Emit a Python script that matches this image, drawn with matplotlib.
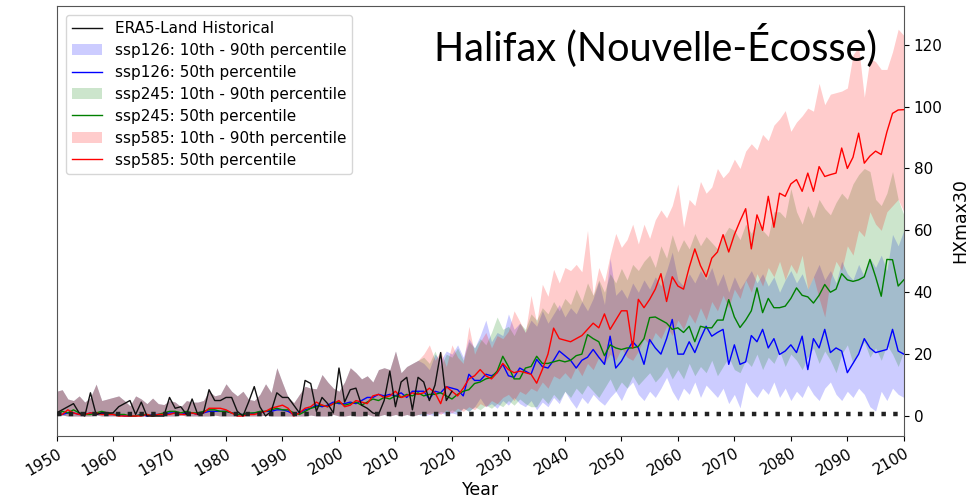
import numpy as np
import matplotlib
matplotlib.use("Agg")
import matplotlib.pyplot as plt

# ERA5-Land historical HXmax30, 1950-2020
era5_years = list(range(1950, 2021))
era5 = [1, 2, 3, 4, 1, 0, 7.5, 0.5, 1, 1,
        1, 3, 4, 5, 0.5, 4.5, 0, 0, 0, 0,
        6, 2.5, 3, 0.5, 5.5, 0.5, 1, 8.5, 5, 5,
        6, 6, 1.5, 0, 4.5, 9.5, 3, 0, 1.5, 7.5,
        6, 6, 3.5, 1, 11.5, 10.5, 1.5, 6, 4, 1,
        15.5, 4.5, 8.5, 9, 3.5, 2.5, 1, 0.5, 5, 14.5,
        3, 11, 12.5, 2, 12.5, 11, 5, 10, 20.5, 5, 8]

# model historical period 1950-2014 (shared envelope)
hist_years = list(range(1950, 2015))
hist_p10 = [0, 0.3, 0, 0, 0, 0, 0, 0.3, 0, 0,
            0, 0, 0, 0, 0, 0, 0, 0, 0, 0,
            0, 0, 0.3, 0, 0, 0, 0, 0, 0.3, 0,
            0, 0, 0, 0, 0, 0, 0, 0.3, 0, 0,
            0, 0, 0, 0, 0, 0.3, 0, 0, 0, 0.5,
            0, 0, 0.3, 0, 0, 0.5, 0, 0, 0.5, 0,
            0.5, 0, 0.5, 0, 0.5]
hist_p90 = [8, 8.5, 5.5, 5, 6.5, 4.5, 6, 10.3, 5, 5.5,
            6, 6.5, 5, 3.3, 6.5, 5.5, 4, 5.8, 4, 3.7,
            5, 4.5, 3, 5, 4.5, 4.5, 5, 8, 6.5, 7,
            10.4, 8, 6.5, 8, 5.4, 5, 7, 10.4, 7.6, 15.6,
            10.7, 6, 4.3, 7, 9.6, 9, 8.8, 13.4, 11, 9,
            8, 11, 15.6, 14, 12, 13, 11, 15, 15.6, 15,
            21, 14, 16, 17, 18]
hist_p50_126 = [0.5, 0.5, 1, 1, 0.5, 0.5, 1, 0.5, 1, 0.5,
                0.5, 0.5, 0, 0, 0, 0.5, 0, 0.5, 0.5, 0.5,
                1, 1, 0.5, 1, 1, 0.5, 1, 1.5, 1.5, 1.5,
                1.5, 1, 0.5, 0.5, 0.5, 1, 1, 1.5, 1.5, 2,
                2, 1.5, 0.5, 1, 2, 2.5, 3.5, 3, 3.5, 4.5,
                4, 4, 4.5, 4, 5, 6, 6, 7, 6.5, 7,
                6.5, 7.5, 6, 8, 8]
hist_p50_245 = [0.5, 1.5, 1, 2, 1, 0.5, 0.5, 1, 1.5, 1,
                0.5, 0.5, 0.5, 0, 0, 0.5, 0.5, 0, 0.5, 1,
                1.5, 1.5, 1, 1.5, 1, 1, 1.5, 2, 2, 1.5,
                1.5, 1, 0.5, 0.5, 1, 1, 1.5, 1.5, 2, 2.5,
                2, 2, 1, 0.5, 1.5, 2.5, 3, 3.5, 3, 4,
                4.5, 3.5, 4, 4.5, 3.5, 4.5, 5.5, 5, 6, 5.5,
                6.5, 6, 7, 6.5, 7.5]
hist_p50_585 = [1, 0.5, 2, 1, 0.5, 0.5, 1, 1, 0.5, 0.5,
                0.5, 0, 0, 0, 0, 0, 0.5, 0, 0.5, 0.5,
                0.5, 1, 0.5, 0.5, 1, 0.5, 1, 2.5, 2.5, 2.5,
                2, 1, 0, 0, 0.5, 0.5, 1, 1.5, 2.5, 3,
                3.5, 2.5, 0, 1, 2.5, 3, 4.5, 3.5, 3, 4,
                5, 3, 3.5, 5, 4.5, 4, 6.5, 7, 6, 6.5,
                8, 6, 6.5, 7.5, 7]

# scenario period 2015-2100
ssp_years = list(range(2015, 2101))

ssp126_p10 = [0, 0.5, 0, 1, 0.5, 1, 0.5, 2.6, 1.5, 3,
              5.8, 3, 4, 2.5, 5, 3.5, 6, 4, 3, 5,
              2, 4.5, 3, 6, 4, 8, 5, 2.5, 6, 4,
              7, 5, 3.5, 6, 8, 5, 9, 11, 7, 5,
              8, 6, 9, 12.5, 8, 5, 9, 7, 11, 6,
              10, 8, 6, 9, 4, 7, 2.6, 11, 8, 6,
              9, 7, 11, 6, 9, 5, 8, 6, 10, 7,
              5, 9, 11, 7, 5, 8, 6, 9, 7, 3,
              1.6, 8, 5, 9, 7, 6]
ssp126_p50 = [8, 5.5, 8, 7.5, 9.5, 9, 8.5, 6.5, 13.5, 11.5,
              11.5, 13.5, 13, 14, 16.7, 13, 12.5, 15.5, 14.5, 13.5,
              18.3, 16, 15.5, 18, 21, 19.5, 18, 15.5, 18, 19,
              21.5, 19, 16.7, 25.8, 15.5, 17.7, 21, 24, 22, 16.7,
              24.7, 22, 20, 25, 31.2, 20, 20, 24, 20.5, 25,
              29, 25.8, 27, 28, 16.7, 23, 16.7, 17.5, 26, 24,
              28, 22, 25, 19.9, 21, 23, 20.5, 25.8, 15, 25,
              22, 28, 20.5, 22, 21, 14, 17, 20, 25, 22,
              20.5, 21, 21.5, 28, 21, 20]
ssp126_p90 = [17, 15, 20, 18, 21, 20, 23, 19, 25, 22,
              26, 31, 24, 27, 26, 33, 28, 30, 27, 31,
              29, 34, 30, 33, 36, 32, 35, 33, 37, 34,
              38, 43.5, 36, 51, 39, 41, 38, 43, 40, 44,
              41, 45, 42, 47, 53, 44, 42, 46, 43, 47,
              44, 48, 42, 46, 40, 45, 41, 44, 47, 43,
              46, 42, 45, 40, 44, 47, 43, 46, 41, 45,
              49, 44, 47, 43, 50, 46, 44, 49, 45, 51,
              48, 52, 47, 58.7, 55, 60]

ssp245_p10 = [0.5, 1, 0.5, 1.5, 1, 2, 1, 2.5, 1.5, 3,
              2, 3.5, 2.5, 4, 3, 5, 3.5, 5.5, 4, 3,
              3, 6, 4, 7, 5, 8, 6, 9, 7, 10,
              8, 6, 9, 12, 8, 11, 9, 13, 10, 12,
              14, 11, 13, 16, 12, 15, 12, 17, 13, 16,
              14, 18, 13, 16, 19, 15, 14, 18, 16, 20,
              15, 19, 17, 21, 16, 20, 18, 15, 19, 22,
              17, 21, 18, 14, 20, 23, 17, 21, 24, 19,
              22, 18, 23, 20, 16, 21]
ssp245_p50 = [6.5, 7, 7, 7.5, 6.5, 5.5, 7, 8, 8.5, 10.5,
              11, 12, 12.5, 14.5, 19.3, 16, 12, 12, 15.5, 16,
              19.3, 17, 17, 17.5, 18, 17.5, 18, 19.5, 20, 26.3,
              25, 24, 19.5, 23, 22, 21.5, 22, 22, 22.5, 25,
              31.8, 32, 31, 30, 28, 28.5, 27, 29, 24, 29,
              28.5, 28.5, 31, 31, 37.6, 32, 28.6, 31, 34, 41.4,
              33.4, 38, 35, 35, 35.5, 38, 41.4, 39, 38.5, 36.5,
              39, 42.5, 40, 41, 46, 44, 43.5, 44, 45, 50.6,
              45, 38.7, 50.6, 50.5, 42, 44]
ssp245_p90 = [19, 17, 21, 16, 20, 19, 22, 18, 24, 22,
              25, 23, 27, 32, 28, 29, 26, 30, 28, 33,
              31, 35, 33, 37, 34, 38, 36, 41, 37, 43,
              39, 44, 40, 46, 43, 47.7, 44, 49, 47, 50,
              52, 48, 55, 51, 58.6, 53, 57, 54, 59, 55,
              58, 56, 54, 58, 61, 60, 57, 62, 59, 63,
              60, 58, 66, 66, 64, 73.5, 66, 62, 68, 64,
              70, 67, 65, 69, 72, 70, 75, 78, 80, 79,
              70, 68, 72, 79, 70, 65]

ssp585_p10 = [1, 0.5, 1.5, 0.5, 2, 1, 2.5, 1.5, 3, 2,
              4, 3, 5, 4, 6, 7, 5, 8, 7, 9,
              8, 11, 9, 13, 12, 14, 12, 16, 13, 17,
              15, 19, 17, 20, 18, 22, 19, 18, 21, 25,
              23, 27, 25, 29, 26, 31, 28, 33, 30, 35,
              31, 37, 34, 39, 35, 41, 38, 44, 40, 46,
              42, 48, 45, 50, 44, 49, 46, 52, 41, 45,
              38, 32, 44, 50, 47, 55, 52, 60, 58, 66,
              62, 60, 66, 68, 70, 66]
ssp585_p50 = [7.5, 9, 7.5, 4, 9.5, 8, 6.5, 9, 12, 13,
              15, 13, 12, 14, 17, 15, 14, 14.5, 14, 13.5,
              10.6, 15, 20, 28.4, 25, 24.5, 24, 25, 26, 28,
              30, 28.5, 33, 28, 31, 34, 34, 22, 37.7, 35,
              37.7, 41, 46, 37, 45, 42, 41, 48, 54, 48.6,
              45, 51, 53, 58.6, 53, 58.6, 63, 67, 54, 65,
              60, 71, 61, 72, 71, 75, 76.4, 72.6, 78.5, 72.6,
              80.6, 77.4, 78, 78.5, 86.6, 80, 83.6, 91.4, 81.7, 84,
              85.6, 84.5, 91.8, 97.8, 98.9, 99]
ssp585_p90 = [20, 23, 18, 21, 16, 23, 19, 17, 29, 20,
              24, 27, 22, 26, 25, 27.4, 34, 30.6, 27, 39,
              30, 42.6, 38.7, 47.4, 43, 48, 47, 49, 46.6, 60,
              39, 48, 43.4, 52, 59, 54.5, 57, 62, 55.6, 62,
              57.4, 63.4, 66.6, 64, 68, 75, 61, 70, 68, 75.8,
              72, 74, 80, 77, 79, 83, 80, 85.6, 88, 86,
              91, 89, 94, 96, 98.7, 92, 95, 97, 99.5, 98.5,
              107.5, 100.6, 104, 104.5, 105, 106, 116.7, 119.4, 103, 115.6,
              114.5, 112, 112, 117.7, 125, 123]

threshold = 0.5

scenarios = [
    ("ssp126", "blue", hist_p50_126, ssp126_p10, ssp126_p50, ssp126_p90),
    ("ssp245", "green", hist_p50_245, ssp245_p10, ssp245_p50, ssp245_p90),
    ("ssp585", "red", hist_p50_585, ssp585_p10, ssp585_p50, ssp585_p90),
]

years = hist_years + ssp_years

fig = plt.figure(figsize=(9.75, 4.99), dpi=100)
ax = fig.add_axes([0.058, 0.126, 0.869, 0.862])

ax.plot(era5_years, era5, color="#111111", lw=1.0, label="ERA5-Land Historical", zorder=4)

for name, col, h50, p10, p50, p90 in scenarios:
    lo = hist_p10 + p10
    hi = hist_p90 + p90
    mid = h50 + p50
    ax.fill_between(years, lo, hi, color=col, alpha=0.2, lw=0,
                    label=f"{name}: 10th - 90th percentile")
    ax.plot(years, mid, color=col, lw=1, label=f"{name}: 50th percentile", zorder=3)

ax.axhline(threshold, color="#222222", ls=":", lw=3.2, zorder=5)

ax.set_xlim(1950, 2100)
ax.set_ylim(-6.5, 132.5)
ax.set_xticks(range(1950, 2101, 10))
ax.set_yticks(range(0, 121, 20))
ax.tick_params(axis="x", labelsize=11, labelrotation=30)
for lbl in ax.get_xticklabels():
    lbl.set_ha("right")
    lbl.set_rotation_mode("anchor")
ax.yaxis.tick_right()
ax.yaxis.set_label_position("right")
ax.tick_params(axis="y", labelsize=11)
ax.set_xlabel("Year", fontsize=12.5, labelpad=2)
ax.set_ylabel("HXmax30", fontsize=12.5, labelpad=6)
for sp in ax.spines.values():
    sp.set_color("#555555")

ax.legend(loc="upper left", fontsize=11, frameon=True, borderaxespad=0.6,
          labelspacing=0.45)

fig.text(656 / 975, 1 - 45 / 499, "Halifax (Nouvelle-Écosse)", fontsize=28.5,
         family="Lato", ha="center", va="center")

fig.savefig("out.png", dpi=100)
